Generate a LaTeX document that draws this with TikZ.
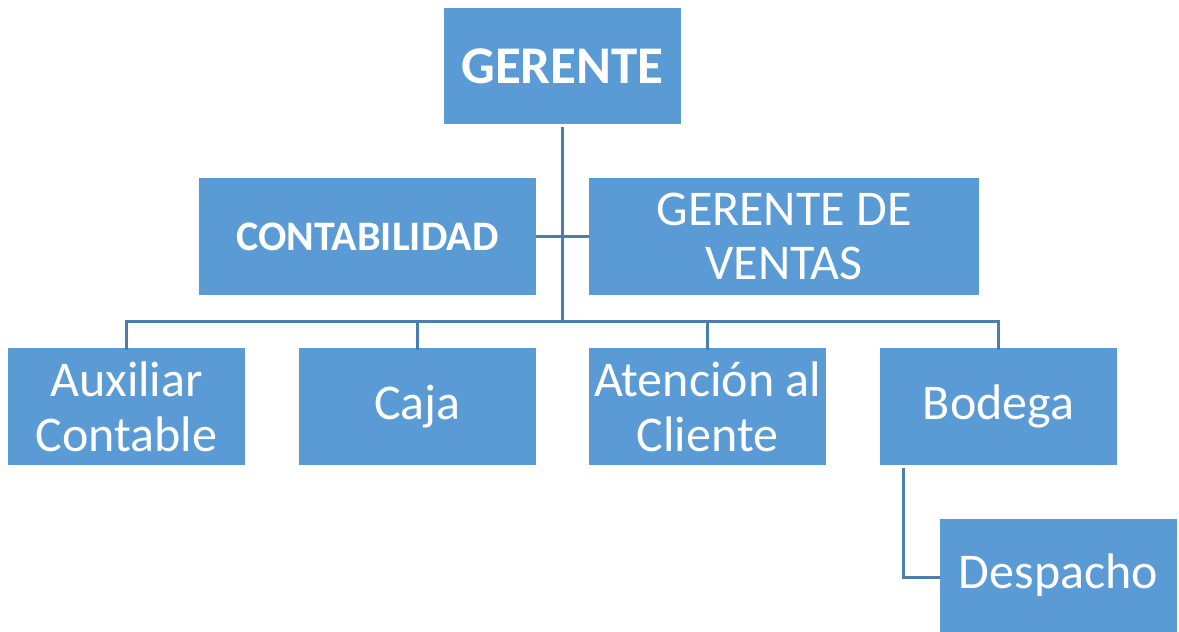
\documentclass[tikz,border=0pt]{standalone}
\usepackage{fontspec}
\setmainfont{Carlito}
\definecolor{boxblue}{HTML}{5B9BD5}
\definecolor{lineblue}{HTML}{4A7EAE}
\begin{document}
\begin{tikzpicture}[x=1pt,y=1pt,
  orgbox/.style={fill=boxblue, draw=none, text=white, align=center,
    inner sep=0pt, minimum width=237pt, minimum height=117pt,
    font=\fontsize{50}{55}\selectfont},
  conn/.style={draw=lineblue, line width=3pt}]
\useasboundingbox (0,0) rectangle (1179,-632);
\node[orgbox, minimum height=116pt, font=\fontsize{53}{58}\selectfont\bfseries] (g) at (562.5,-66) {GERENTE};
\node[orgbox, minimum width=337pt, font=\fontsize{42}{46}\selectfont\bfseries] (cont) at (367.5,-236.5) {CONTABILIDAD};
\node[orgbox, minimum width=390pt, font=\fontsize{50}{54}\selectfont] (gv) at (784,-236.5) {GERENTE DE\\VENTAS};
\node[orgbox] (aux) at (126.5,-406.5) {Auxiliar\\Contable};
\node[orgbox] (caja) at (417.5,-406.5) {Caja};
\node[orgbox] (aten) at (707.5,-406.5) {Atención al\\Cliente};
\node[orgbox] (bod) at (998.5,-406.5) {Bodega};
\node[orgbox, minimum height=113pt] (desp) at (1058.5,-575.5) {Despacho};
\coordinate (bus) at (562.5,-321);
\coordinate (bstart) at (903,-468);
\coordinate (bcorner) at (903,-577);
\draw[conn] ([yshift=-3pt]g.south) -- (bus);
\draw[conn] (cont.east) -- (gv.west);
\draw[conn] ([yshift=-2pt]aux.north) -- (aux.north |- bus) -- (bod.north |- bus) -- ([yshift=-2pt]bod.north);
\draw[conn] ([yshift=-2pt]caja.north) -- (caja.north |- bus);
\draw[conn] ([yshift=-2pt]aten.north) -- (aten.north |- bus);
\draw[conn] (bstart) -- (bcorner) -- (bcorner -| desp.west);
\end{tikzpicture}
\end{document}
